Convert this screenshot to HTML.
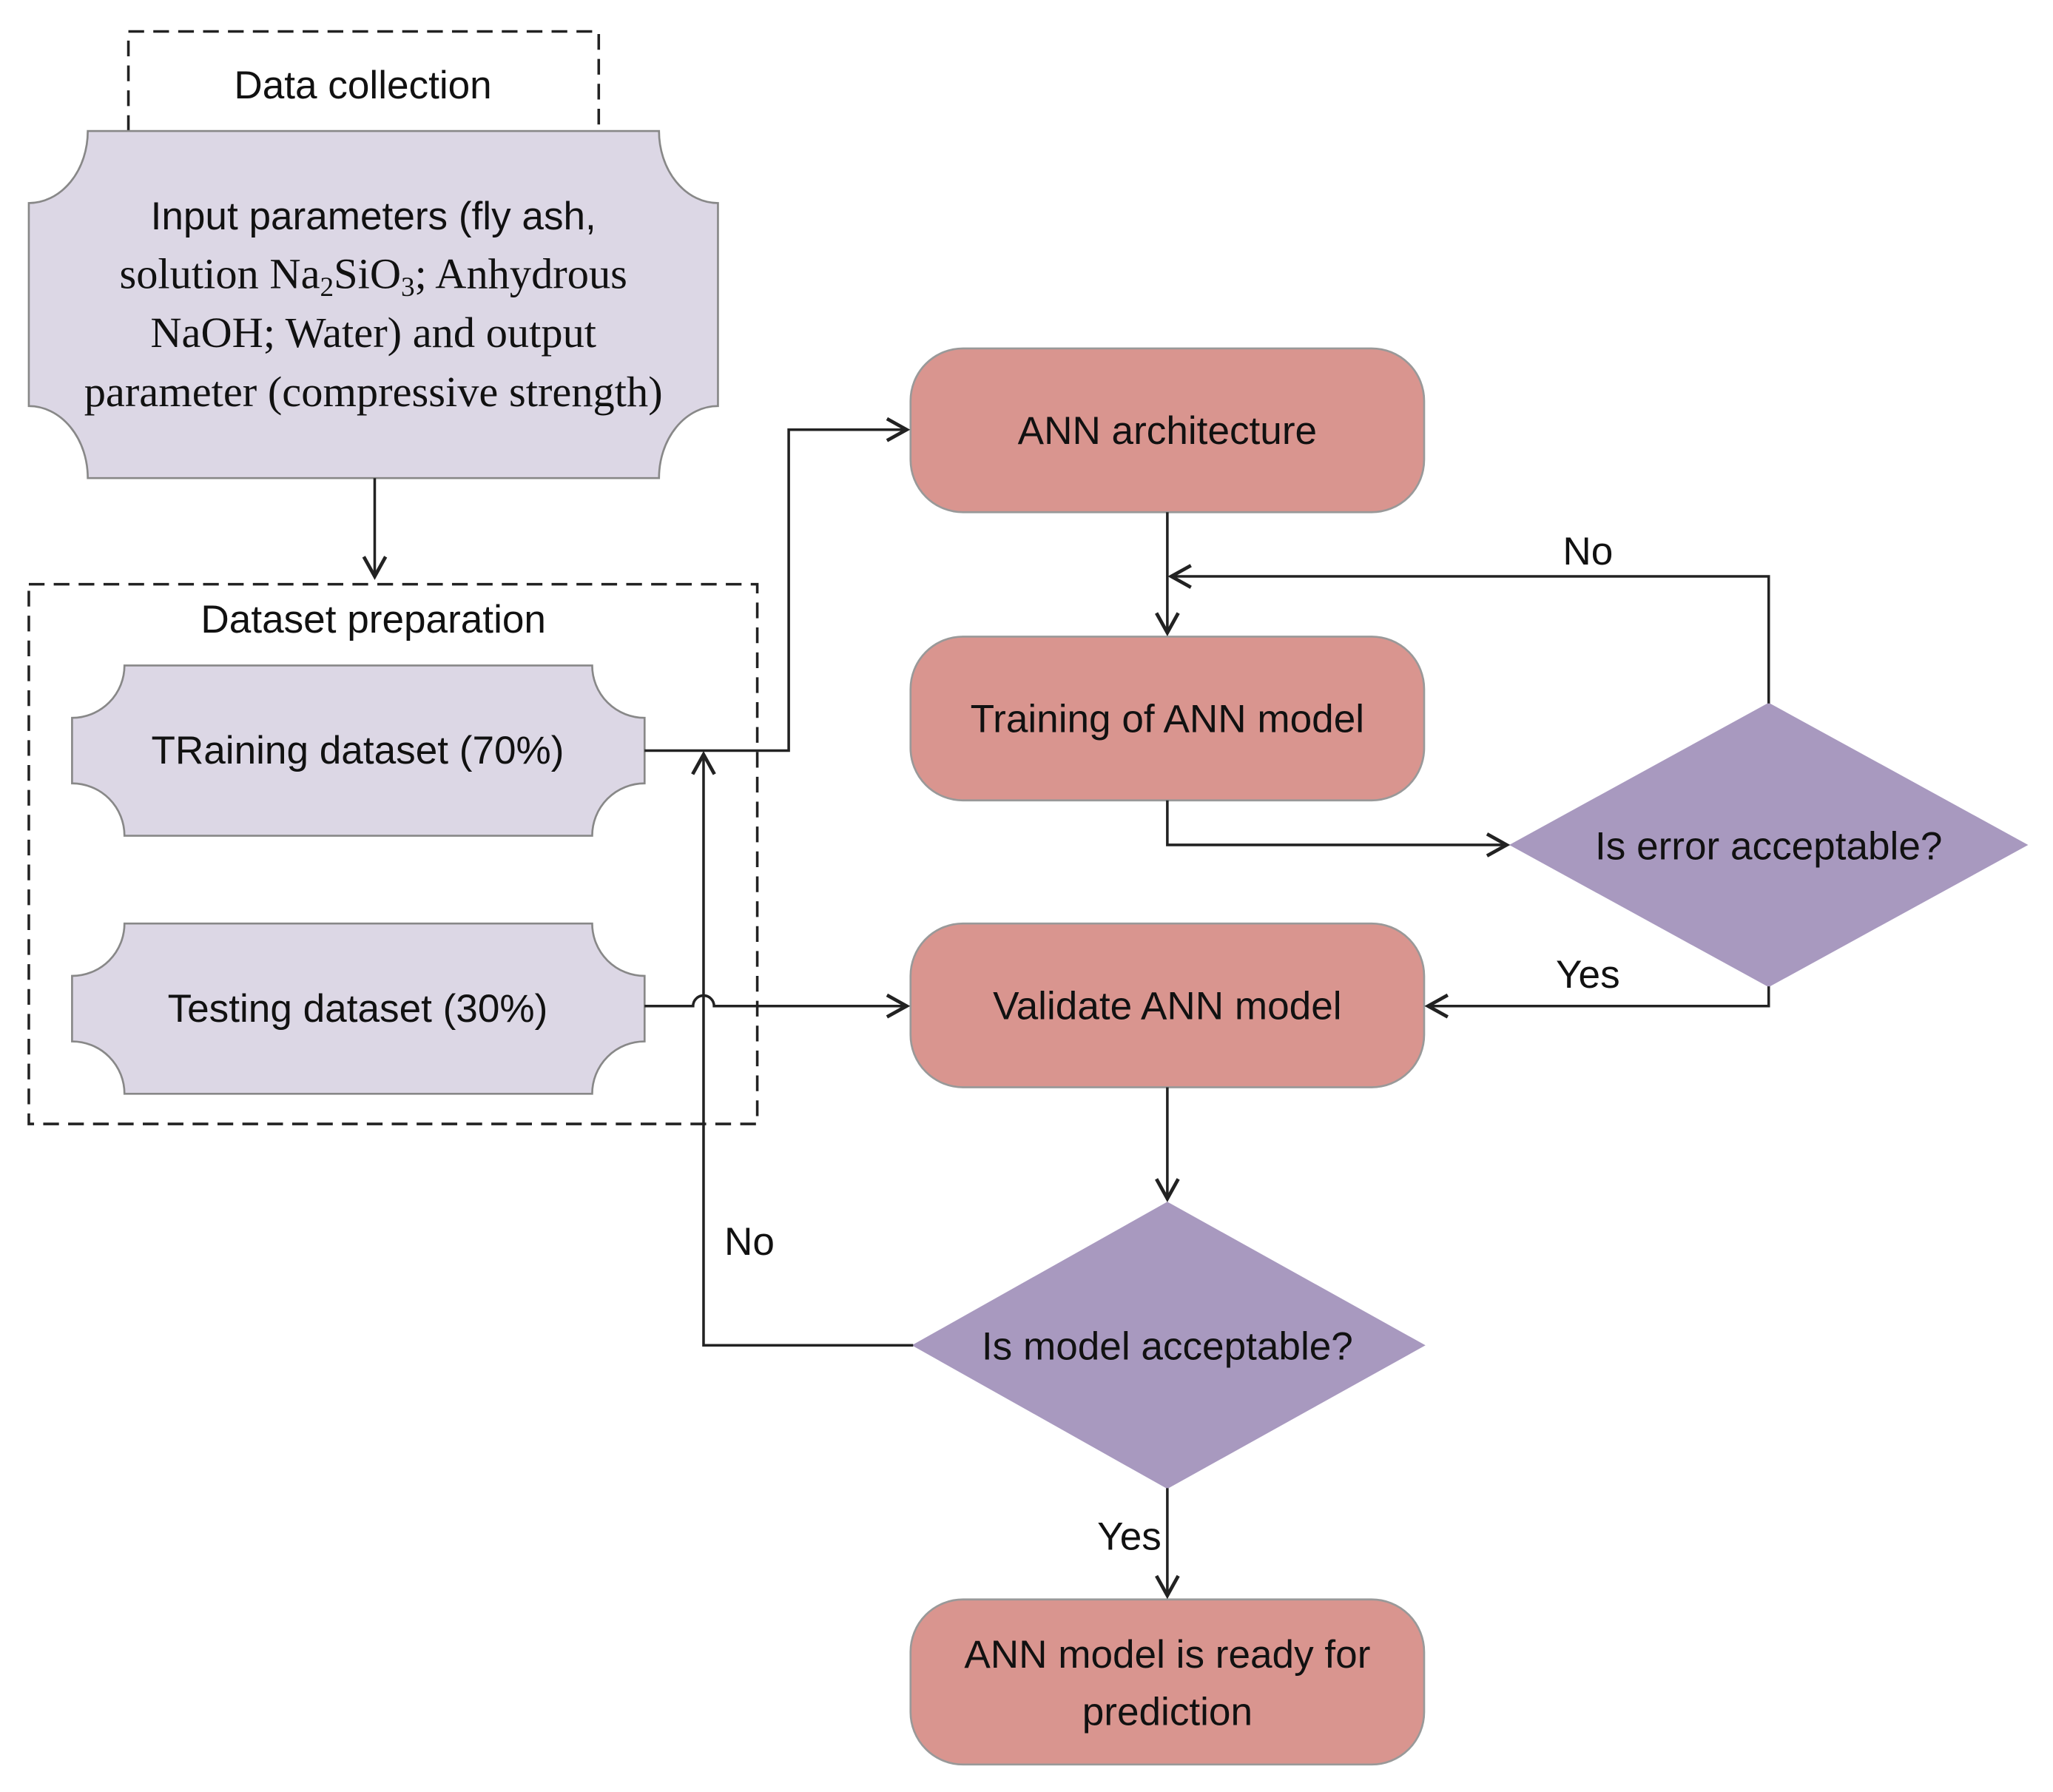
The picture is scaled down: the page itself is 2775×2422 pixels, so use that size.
<!DOCTYPE html>
<html><head><meta charset="utf-8"><style>html,body{margin:0;padding:0;background:#fff}svg{display:block}</style></head>
<body>
<svg width="2775" height="2422" viewBox="0 0 1567 1368" preserveAspectRatio="none" xmlns="http://www.w3.org/2000/svg">
<defs>
<marker id="a" markerWidth="20" markerHeight="20" refX="10" refY="6" orient="auto" markerUnits="userSpaceOnUse" viewBox="0 0 12 12">
<path d="M1,1 L10,6 L1,11" fill="none" stroke="#222" stroke-width="1.6"/>
</marker>
</defs>
<g font-family="Liberation Sans, sans-serif" fill="#111">
<rect x="98" y="24" width="359" height="78" fill="#fff" stroke="#222" stroke-width="2" stroke-dasharray="12,7"/>
<text x="277" y="75" font-size="30" text-anchor="middle">Data collection</text>
<path d="M67,100 L503,100 A45,55 0 0 0 548,155 L548,310 A45,55 0 0 0 503,365 L67,365 A45,55 0 0 0 22,310 L22,155 A45,55 0 0 0 67,100 Z" fill="#dcd7e5" stroke="#888" stroke-width="1.5"/>
<g font-family="Liberation Serif, serif" font-size="33" text-anchor="middle">
<text x="285" y="175" font-family="Liberation Sans, sans-serif" font-size="30">Input parameters (fly ash,</text>
<text x="285" y="220">solution Na<tspan font-size="21" dy="6">2</tspan><tspan dy="-6">SiO</tspan><tspan font-size="21" dy="6">3</tspan><tspan dy="-6">; Anhydrous</tspan></text>
<text x="285" y="265">NaOH; Water) and output</text>
<text x="285" y="310">parameter (compressive strength)</text>
</g>
<rect x="22" y="446" width="556" height="412" fill="none" stroke="#222" stroke-width="2" stroke-dasharray="12,7"/>
<text x="285" y="483" font-size="30" text-anchor="middle">Dataset preparation</text>
<path d="M95,508 L452,508 A40,40 0 0 0 492,548 L492,598 A40,40 0 0 0 452,638 L95,638 A40,40 0 0 0 55,598 L55,548 A40,40 0 0 0 95,508 Z" fill="#dcd7e5" stroke="#888" stroke-width="1.5"/>
<text x="273" y="583" font-size="30" text-anchor="middle">TRaining dataset (70%)</text>
<path d="M95,705 L452,705 A40,40 0 0 0 492,745 L492,795 A40,40 0 0 0 452,835 L95,835 A40,40 0 0 0 55,795 L55,745 A40,40 0 0 0 95,705 Z" fill="#dcd7e5" stroke="#888" stroke-width="1.5"/>
<text x="273" y="780" font-size="30" text-anchor="middle">Testing dataset (30%)</text>
<g fill="#d9958f" stroke="#999" stroke-width="1.5">
<rect x="695" y="266" width="392" height="125" rx="40"/>
<rect x="695" y="486" width="392" height="125" rx="40"/>
<rect x="695" y="705" width="392" height="125" rx="40"/>
<rect x="695" y="1221" width="392" height="126" rx="40"/>
</g>
<g font-size="30" text-anchor="middle">
<text x="891" y="339">ANN architecture</text>
<text x="891" y="559">Training of ANN model</text>
<text x="891" y="778">Validate ANN model</text>
<text x="891" y="1273">ANN model is ready for</text>
<text x="891" y="1317">prediction</text>
</g>
<polygon points="1350,537 1547,645 1350,753 1153,645" fill="#a899bf" stroke="#a899bf"/>
<text x="1350" y="656" font-size="30" text-anchor="middle">Is error acceptable?</text>
<polygon points="891,918 1087,1027 891,1136 697,1027" fill="#a899bf" stroke="#a899bf"/>
<text x="891" y="1038" font-size="30" text-anchor="middle">Is model acceptable?</text>
<g fill="none" stroke="#222" stroke-width="2">
<path d="M286,365 L286,440" marker-end="url(#a)"/>
<path d="M492,573 L602,573 L602,328 L692,328" marker-end="url(#a)"/>
<path d="M891,391 L891,483" marker-end="url(#a)"/>
<path d="M1350,537 L1350,440 L894,440" marker-end="url(#a)"/>
<path d="M891,611 L891,645 L1150,645" marker-end="url(#a)"/>
<path d="M1350,753 L1350,768 L1090,768" marker-end="url(#a)"/>
<path d="M492,768 L529,768 A8,8 0 0 1 545,768 L692,768" marker-end="url(#a)"/>
<path d="M891,830 L891,915" marker-end="url(#a)"/>
<path d="M697,1027 L537,1027 L537,576" marker-end="url(#a)"/>
<path d="M891,1136 L891,1218" marker-end="url(#a)"/>
</g>
<g font-size="30" text-anchor="middle">
<text x="1212" y="431">No</text>
<text x="1212" y="754">Yes</text>
<text x="572" y="958">No</text>
<text x="862" y="1183">Yes</text>
</g>
</g>
</svg>
</body></html>
